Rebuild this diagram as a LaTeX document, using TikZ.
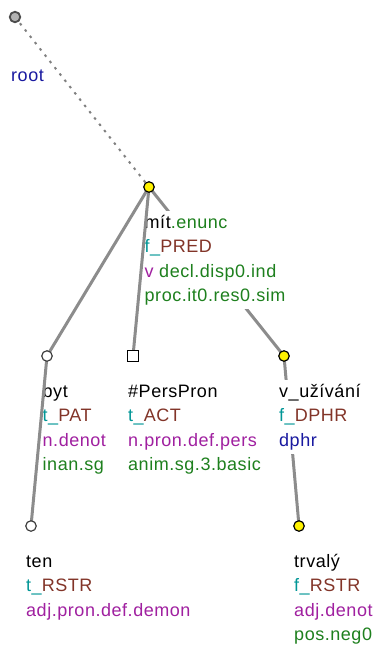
\documentclass[tikz,border=0pt]{standalone}
\usepackage{fontspec}
\setmainfont{Liberation Sans}[LetterSpace=3]
\usetikzlibrary{positioning}
\definecolor{tgreen}{RGB}{30,128,30}
\definecolor{tteal}{RGB}{0,150,150}
\definecolor{tbrown}{RGB}{130,52,40}
\definecolor{tpurple}{RGB}{160,32,160}
\definecolor{tblue}{RGB}{25,25,160}
\newcommand{\fnc}[2]{\textcolor{tteal}{#1\_}\textcolor{tbrown}{#2}}
\newcommand{\lines}[1]{\begin{tabular}[t]{@{}l@{}}#1\end{tabular}}
\tikzset{
  t node/.style={
    circle,
    minimum size=10.5pt,
    inner sep=0pt,
    line width=1.2pt,
    draw=black!75,
    fill=white,
  },
  t root/.style={t node, line width=1.8pt, draw=black!70, fill=black!30},
  t verb/.style={t node, draw=black, fill=yellow},
  t gen/.style={t node, rectangle, draw=black},
  t edge/.style={line width=3pt, draw=black!45},
  t dots/.style={line width=2pt, draw=black!50, dash pattern=on 2.5pt off 5.5pt},
  t label/.style={
    anchor=base west,
    inner sep=0pt,
    fill=white,
    font=\fontsize{18}{24.6}\selectfont,
  },
}
\begin{document}
\begin{tikzpicture}[x=1pt,y=-1pt]
  \useasboundingbox (0,0) rectangle (376,646);

  % tree nodes
  \coordinate (root) at (15,17);
  \coordinate (mit) at (149,187);
  \coordinate (byt) at (47,356);
  \coordinate (pron) at (133,356);
  \coordinate (uziv) at (284,356);
  \coordinate (ten) at (31,526);
  \coordinate (trv) at (299,526);

  % edges under the labels
  \draw[t dots] (root) -- (mit);
  \draw[t edge] (mit) -- (uziv);
  \draw[t edge] (uziv) -- (trv);

  % labels
  \node[below=64pt of root, t label, xshift=-4pt] (root-l) {\textcolor{tblue}{root}};
  \node[below=41pt of mit, t label, xshift=-4.5pt] (mit-l)
    {\lines{mít\textcolor{tgreen}{.enunc}\\ \fnc{f}{PRED}\\
     \textcolor{tpurple}{v} \textcolor{tgreen}{decl.disp0.ind}\\
     \textcolor{tgreen}{proc.it0.res0.sim}}};
  \node[below=41pt of byt, t label, xshift=-4.5pt] (byt-l)
    {\lines{byt\\ \fnc{t}{PAT}\\ \textcolor{tpurple}{n.denot}\\ \textcolor{tgreen}{inan.sg}}};
  \node[below=41pt of pron, t label, xshift=-5pt] (pron-l)
    {\lines{\#PersPron\\ \fnc{t}{ACT}\\ \textcolor{tpurple}{n.pron.def.pers}\\
     \textcolor{tgreen}{anim.sg.3.basic}}};
  \node[below=41pt of uziv, t label, xshift=-5pt] (uziv-l)
    {\lines{v\_užívání\\ \fnc{f}{DPHR}\\ \textcolor{tblue}{dphr}}};
  \node[below=41pt of ten, t label, xshift=-5pt] (ten-l)
    {\lines{ten\\ \fnc{t}{RSTR}\\ \textcolor{tpurple}{adj.pron.def.demon}}};
  \node[below=41pt of trv, t label, xshift=-5pt] (trv-l)
    {\lines{trvalý\\ \fnc{f}{RSTR}\\ \textcolor{tpurple}{adj.denot}\\ \textcolor{tgreen}{pos.neg0}}};

  % edges over the labels
  \draw[t edge] (mit) -- (byt);
  \draw[t edge] (mit) -- (pron);
  \draw[t edge] (byt) -- (ten);

  % node symbols
  \node[t root] at (root) {};
  \node[t verb] at (mit) {};
  \node[t node] at (byt) {};
  \node[t gen, minimum size=11pt] at (pron) {};
  \node[t verb] at (uziv) {};
  \node[t node] at (ten) {};
  \node[t verb] at (trv) {};
\end{tikzpicture}
\end{document}
